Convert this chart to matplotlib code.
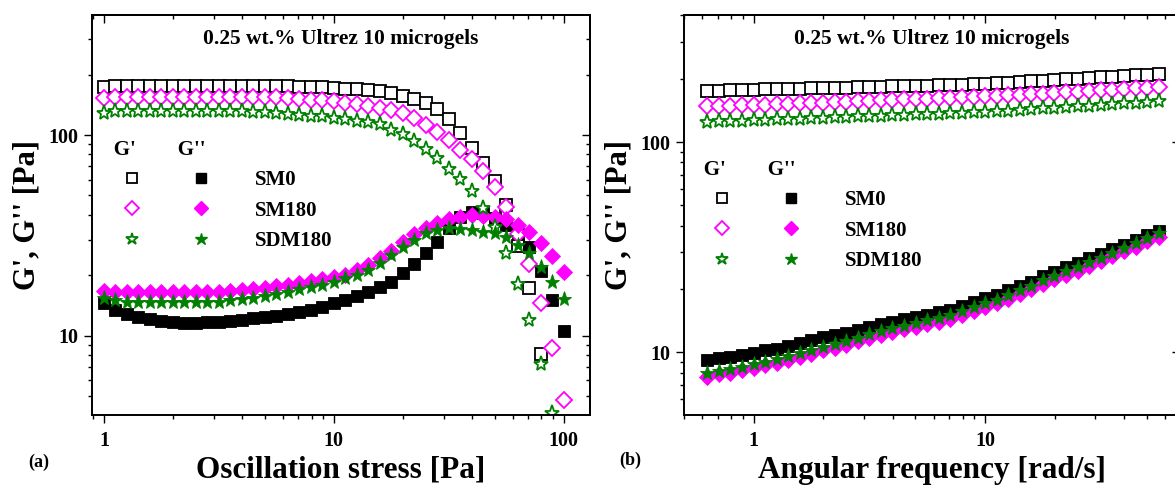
import numpy as np
import matplotlib
matplotlib.use("Agg")
import matplotlib.pyplot as plt
from matplotlib.ticker import FuncFormatter, NullFormatter
from matplotlib.legend_handler import HandlerTuple
from matplotlib.lines import Line2D

nan = np.nan

# (a) amplitude sweep
stress = [1.0, 1.122, 1.259, 1.413, 1.585, 1.778, 1.995, 2.239, 2.512, 2.818,
          3.162, 3.548, 3.981, 4.467, 5.012, 5.623, 6.310, 7.079, 7.943, 8.913,
          10.0, 11.22, 12.59, 14.13, 15.85, 17.78, 19.95, 22.39, 25.12, 28.18,
          31.62, 35.48, 39.81, 44.67, 50.12, 56.23, 63.10, 70.79, 79.43, 89.13,
          100.0]
sm0_g1_a = [173, 175, 176, 176, 176, 176, 176, 176, 176, 176,
            176, 176, 176, 175.5, 175, 175, 174.5, 174, 173, 172.5,
            171.5, 170, 169, 167, 165.5, 162.5, 157, 151.7, 143.9, 134.3,
            119.7, 102.7, 86.4, 72.3, 59.0, 44.8, 28, 17.2, 8.1, nan, nan]
sm0_g2_a = [14.6, 13.4, 12.8, 12.4, 12.1, 11.8, 11.7, 11.6, 11.6, 11.65,
            11.7, 11.8, 12.0, 12.2, 12.35, 12.5, 12.8, 13.2, 13.5, 13.9,
            14.5, 15.1, 15.8, 16.6, 17.5, 18.6, 20.5, 22.8, 25.7, 29.4,
            34.4, 39.2, 41.5, 40.7, 38.6, 35.6, 32.1, 27.8, 21.1, 15.1, 10.6]
sm180_g1_a = [153, 155, 155, 155, 155, 155, 155, 155, 155, 155,
              155, 155, 155, 155, 155, 154, 153, 152, 150, 149,
              147, 145, 143, 140, 137, 133, 128, 121, 112, 104,
              94.4, 84.2, 75.6, 66.2, 54.9, 43.6, 32, 22.8, 14.5, 8.65, 4.78]
sm180_g2_a = [16.8, 16.6, 16.6, 16.6, 16.6, 16.6, 16.6, 16.6, 16.6, 16.6,
              16.6, 16.7, 16.9, 17.1, 17.3, 17.6, 18.0, 18.4, 18.8, 19.2,
              19.6, 20.0, 21.2, 22.6, 24.3, 26.5, 29.2, 32, 34.5, 36.3,
              38, 39.2, 39.9, 39.5, 39.2, 38, 35.6, 33, 28.9, 25, 20.8]
sdm180_g1_a = [129, 131, 131, 131, 131, 131, 131, 131, 131, 131,
               131, 131, 131, 130, 129.5, 128.5, 127.5, 126.5, 125, 124,
               122, 120, 118, 116, 113, 106, 101, 93, 85, 76.5,
               68, 60.4, 52.8, 43.1, 34.9, 25.9, 18.2, 12.0, 7.2, 4.1, nan]
sdm180_g2_a = [15.4, 15.1, 14.8, 14.8, 14.8, 14.8, 14.8, 14.8, 14.8, 14.8,
               14.8, 15.0, 15.2, 15.5, 15.8, 16.2, 16.6, 17.0, 17.4, 18.0,
               18.6, 19.3, 20.1, 21.2, 23.0, 25.3, 27.8, 30, 32.4, 33.6,
               34.3, 34.0, 33.6, 33.0, 32.4, 30.9, 28.3, 25.7, 22.1, 18.6, 15.2]

# (b) frequency sweep
freq = [0.631, 0.708, 0.794, 0.891, 1.0, 1.122, 1.259, 1.413, 1.585, 1.778,
        1.995, 2.239, 2.512, 2.818, 3.162, 3.548, 3.981, 4.467, 5.012, 5.623,
        6.310, 7.079, 7.943, 8.913, 10.0, 11.22, 12.59, 14.13, 15.85, 17.78,
        19.95, 22.39, 25.12, 28.18, 31.62, 35.48, 39.81, 44.67, 50.12, 56.23]
sm0_g1_b = [175, 175.5, 176, 177, 177.5, 178, 178.5, 179, 179.5, 180,
            180.5, 181, 181.5, 182, 183, 183.5, 184, 184.5, 185, 185.5,
            186, 186.5, 187.5, 188, 189, 190, 191.5, 193, 194.5, 196,
            197.5, 199, 200.5, 202, 203.5, 205, 206.5, 207.5, 209, 210]
sm0_g2_b = [9.2, 9.35, 9.5, 9.7, 9.95, 10.2, 10.4, 10.7, 11.1, 11.4,
            11.8, 12.1, 12.4, 12.8, 13.2, 13.6, 14.0, 14.4, 14.7, 15.1,
            15.5, 15.9, 16.6, 17.4, 18.1, 18.7, 19.8, 20.7, 21.7, 23.1,
            24.2, 25.5, 26.5, 28.0, 29.3, 30.9, 32.5, 34.2, 36.1, 37.8]
sm180_g1_b = [148, 148.5, 149, 149.5, 150, 150.7, 151.4, 152, 152.7, 153.4,
              154, 154.7, 155.4, 156.2, 157, 157.8, 158.6, 159.4, 160.2, 161,
              161.8, 162.6, 163.4, 164.2, 165, 166, 167, 168, 169, 170,
              171.2, 172.4, 173.6, 174.8, 176, 177.3, 178.6, 180, 181.5, 183]
sm180_g2_b = [7.65, 7.85, 8.0, 8.2, 8.4, 8.65, 8.9, 9.2, 9.5, 9.8,
              10.2, 10.5, 10.85, 11.3, 11.7, 12.1, 12.5, 12.85, 13.25, 13.65,
              14.0, 14.4, 15.1, 15.75, 16.4, 17.1, 18.0, 18.9, 19.9, 21.1,
              22.2, 23.4, 24.4, 25.8, 27.1, 28.6, 30.2, 31.8, 33.7, 35.5]
sdm180_g1_b = [125, 125.5, 126, 126.5, 127, 127.6, 128.2, 128.8, 129.4, 130,
               130.6, 131.2, 131.8, 132.4, 133, 133.6, 134.2, 134.8, 135.4, 136,
               136.6, 137.2, 137.8, 138.4, 139, 140, 141, 142, 143.2, 144.4,
               145.6, 146.8, 148, 149.2, 150.4, 151.6, 152.8, 154, 155, 156]
sdm180_g2_b = [7.95, 8.15, 8.3, 8.5, 8.75, 9.0, 9.25, 9.55, 9.9, 10.2,
               10.6, 10.95, 11.3, 11.75, 12.2, 12.6, 13.0, 13.4, 13.8, 14.2,
               14.6, 15.0, 15.7, 16.4, 17.1, 17.8, 18.8, 19.7, 20.7, 22.0,
               23.1, 24.4, 25.4, 26.9, 28.2, 29.8, 31.4, 33.1, 35.0, 36.8]

samples = ["SM0", "SM180", "SDM180"]
colors = ["black", "#ff00ff", "#008000"]
markers = ["s", "D", "*"]
msizes = [8.0, 8.6, 11.0]

title = "0.25 wt.% Ultrez 10 microgels"
FONT = "Liberation Serif"

plt.rcParams["font.family"] = FONT
plt.rcParams["font.weight"] = "bold"


def style_axes(ax):
    for sp in ax.spines.values():
        sp.set_linewidth(1.4)
    ax.set_xscale("log")
    ax.set_yscale("log")
    fmt = FuncFormatter(lambda v, p: "%g" % v)
    ax.xaxis.set_major_formatter(fmt)
    ax.yaxis.set_major_formatter(fmt)
    ax.xaxis.set_minor_formatter(NullFormatter())
    ax.yaxis.set_minor_formatter(NullFormatter())
    ax.tick_params(which="both", direction="out", top=False, right=False,
                   labelsize=14.5, width=1.0)
    ax.tick_params(which="major", length=5.5, pad=4)
    ax.tick_params(which="minor", length=3)
    ax.tick_params(axis="x", which="major", pad=6)
    for lab in ax.get_xticklabels() + ax.get_yticklabels():
        lab.set_fontweight("bold")
    # mirrored ticks pointing inwards on top and right
    top = ax.secondary_xaxis("top")
    right = ax.secondary_yaxis("right")
    for sec, axis in ((top, top.xaxis), (right, right.yaxis)):
        sec.tick_params(which="both", direction="in", width=1.0)
        sec.tick_params(which="major", length=5.5)
        sec.tick_params(which="minor", length=3)
        axis.set_major_formatter(NullFormatter())
        axis.set_minor_formatter(NullFormatter())
        for sp in sec.spines.values():
            sp.set_linewidth(1.4)


def draw(ax, x, g1s, g2s):
    for name, c, m, ms, g1, g2 in zip(samples, colors, markers, msizes, g1s, g2s):
        ax.plot(x, g1, linestyle="none", marker=m, markersize=ms,
                markerfacecolor="white", markeredgecolor=c, markeredgewidth=1.3)
        ax.plot(x, g2, linestyle="none", marker=m, markersize=ms,
                markerfacecolor=c, markeredgecolor=c, markeredgewidth=0.6)


def add_legend(ax, anchor):
    handles = []
    for c, m, ms in zip(colors, markers, msizes):
        op = Line2D([], [], linestyle="none", marker=m, markersize=ms * 0.85,
                    markerfacecolor="white", markeredgecolor=c, markeredgewidth=1.3)
        fi = Line2D([], [], linestyle="none", marker=m, markersize=ms * 0.85,
                    markerfacecolor=c, markeredgecolor=c)
        handles.append((op, fi))
    leg = ax.legend(handles, samples, loc="upper left", bbox_to_anchor=anchor,
                    handler_map={tuple: HandlerTuple(ndivide=None, pad=0)},
                    frameon=False, borderpad=0, borderaxespad=0,
                    handlelength=6.6, handletextpad=0.95, labelspacing=0.5,
                    prop={"family": FONT, "weight": "bold", "size": 15},
                    title="   G'        G''", alignment="left",
                    title_fontproperties={"family": FONT, "weight": "bold", "size": 15})
    return leg


fig = plt.figure(figsize=(11.75, 4.86), dpi=100)
ax1 = fig.add_axes([0.0783, 0.1461, 0.4238, 0.823])
ax2 = fig.add_axes([0.5821, 0.1461, 0.4221, 0.823])

draw(ax1, stress, [sm0_g1_a, sm180_g1_a, sdm180_g1_a], [sm0_g2_a, sm180_g2_a, sdm180_g2_a])
draw(ax2, freq, [sm0_g1_b, sm180_g1_b, sdm180_g1_b], [sm0_g2_b, sm180_g2_b, sdm180_g2_b])

ax1.set_xlim(0.887, 130)
ax1.set_ylim(4.03, 396)
ax2.set_xlim(0.5, 69.5)
ax2.set_ylim(5.03, 402)

for ax in (ax1, ax2):
    style_axes(ax)
    ax.set_ylabel("G', G'' [Pa]", fontsize=22, fontweight="bold", labelpad=5)
    ax.text(0.5, 0.94, title, transform=ax.transAxes, ha="center", va="center",
            fontsize=15.5, fontweight="bold")

ax1.set_xlabel("Oscillation stress [Pa]", fontsize=22.5, fontweight="bold", labelpad=3.5)
ax2.set_xlabel("Angular frequency [rad/s]", fontsize=22.5, fontweight="bold", labelpad=3.5)

add_legend(ax1, (0.012, 0.688))
add_legend(ax2, (0.008, 0.638))

fig.text(0.033, 0.049, "(a)", fontsize=13, fontweight="bold", ha="center", va="center")
fig.text(0.536, 0.053, "(b)", fontsize=13, fontweight="bold", ha="center", va="center")

fig.savefig("out.png", dpi=100)
